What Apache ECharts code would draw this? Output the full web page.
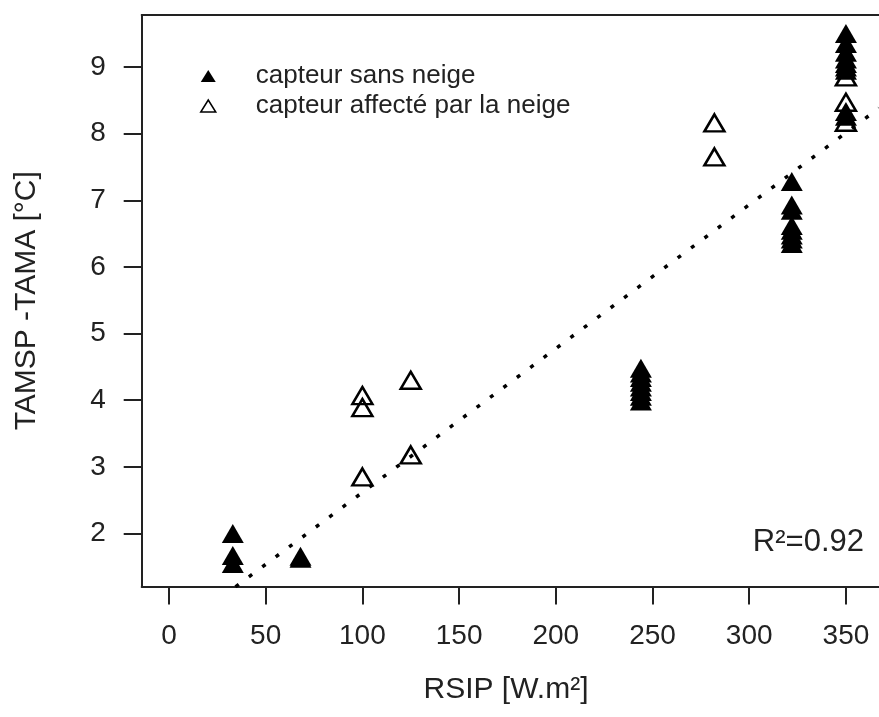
<!DOCTYPE html>
<html>
<head>
<meta charset="utf-8">
<script src="https://cdn.jsdelivr.net/npm/echarts@6/dist/echarts.min.js"></script>
<style>
html,body{margin:0;padding:0;background:#fff;}
#chart{width:879px;height:717px;}
</style>
</head>
<body>
<div id="chart"></div>
<script>
// ---- data ----
var seriesNames = ['capteur sans neige', 'capteur affecté par la neige'];
// capteur sans neige (filled triangles)
var sansNeigeX = [33, 33, 33, 68, 68,
  244, 244, 244, 244, 244, 244, 244, 244,
  322, 322, 322, 322, 322, 322, 322, 322,
  350, 350, 350, 350, 350, 350, 350, 350, 350];
var sansNeigeY = [2.0, 1.67, 1.55, 1.63, 1.66,
  3.99, 4.06, 4.13, 4.2, 4.27, 4.34, 4.41, 4.48,
  7.28, 6.93, 6.85, 6.62, 6.55, 6.48, 6.42, 6.35,
  9.5, 9.35, 9.22, 9.12, 9.05, 9.0, 8.95, 8.33, 8.26];
// capteur affecté par la neige (open triangles)
var neigeX = [100, 100, 100, 125, 125, 282, 282, 350, 350, 350];
var neigeY = [4.07, 3.89, 2.85, 4.30, 3.18, 8.16, 7.65, 8.85, 8.47, 8.17];
// regression line  y = intercept + slope * x
var regIntercept = 0.459;
var regSlope = 0.02158;
var r2Label = 'R²=0.92';
// axes
var xTicks = [0, 50, 100, 150, 200, 250, 300, 350];
var yTicks = [2, 3, 4, 5, 6, 7, 8, 9];
var xTitle = 'RSIP [W.m²]';
var yTitle = 'TAMSP -TAMA [°C]';
var xMin = -14.1, xMax = 367.1;
var yMin = 1.206, yMax = 9.779;

function zip(xs, ys) { return xs.map(function (x, i) { return [x, ys[i]]; }); }
var regLine = [xMin, xMax].map(function (x) { return [x, regIntercept + regSlope * x]; });

var FONT = '"Liberation Sans", Arial, sans-serif';
var TXT = '#222';
var AX = {color: '#222', width: 2};

var chart = echarts.init(document.getElementById('chart'), null, {renderer: 'canvas'});
chart.setOption({
  animation: false,
  backgroundColor: '#fff',
  textStyle: {fontFamily: FONT},
  grid: {left: 141.7, top: 15, right: 0, bottom: 130.5, show: false},
  legend: {
    orient: 'vertical', left: 195, top: 58,
    itemWidth: 15, itemHeight: 12, itemGap: 4,
    selectedMode: false,
    textStyle: {fontSize: 26, lineHeight: 26, color: TXT, fontFamily: FONT, padding: [0, 0, 0, 35]},
    data: [
      {name: seriesNames[0], icon: 'triangle', itemStyle: {color: '#000', borderWidth: 0}},
      {name: seriesNames[1], icon: 'triangle', itemStyle: {color: 'rgba(0,0,0,0)', borderColor: '#000', borderWidth: 1.5}}
    ]
  },
  xAxis: [{
    type: 'value', min: xMin, max: xMax, position: 'bottom',
    splitLine: {show: false},
    axisLine: {show: true, onZero: false, lineStyle: AX},
    axisTick: {show: true, inside: false, length: 18, customValues: xTicks, lineStyle: AX},
    axisLabel: {show: true, margin: 36, customValues: xTicks, fontSize: 28, lineHeight: 28, color: TXT, fontFamily: FONT}
  }, {
    type: 'value', min: xMin, max: xMax, position: 'top',
    splitLine: {show: false},
    axisLine: {show: true, onZero: false, lineStyle: AX},
    axisTick: {show: false}, axisLabel: {show: false}
  }],
  yAxis: {
    type: 'value', min: yMin, max: yMax,
    name: yTitle, nameLocation: 'middle', nameGap: 100, nameRotate: 90,
    nameTextStyle: {fontSize: 30, color: TXT, fontFamily: FONT},
    splitLine: {show: false},
    axisLine: {show: true, onZero: false, lineStyle: AX},
    axisTick: {show: true, inside: false, length: 18, customValues: yTicks, lineStyle: AX},
    axisLabel: {show: true, margin: 36, customValues: yTicks, fontSize: 28, color: TXT, fontFamily: FONT}
  },
  graphic: [
    {type: 'text', x: 506, y: 690, style: {text: xTitle, fontSize: 30, fontFamily: FONT, fill: TXT, align: 'center', verticalAlign: 'middle'}},
    {type: 'text', x: 864, y: 542, style: {text: r2Label, fontSize: 31, fontFamily: FONT, fill: TXT, align: 'right', verticalAlign: 'middle'}}
  ],
  series: [
    {
      name: 'regression', type: 'line', data: regLine, clip: true, showSymbol: false, symbol: 'none',
      silent: true, z: 1,
      lineStyle: {color: '#000', width: 3.5, type: [4, 12.7], cap: 'butt'}
    },
    {
      name: seriesNames[0], type: 'scatter', data: zip(sansNeigeX, sansNeigeY),
      symbol: 'triangle', symbolSize: [22, 19], silent: true, z: 3,
      itemStyle: {color: '#000', opacity: 1}
    },
    {
      name: seriesNames[1], type: 'scatter', data: zip(neigeX, neigeY),
      symbol: 'triangle', symbolSize: [20, 17], silent: true, z: 4,
      itemStyle: {color: 'rgba(0,0,0,0)', borderColor: '#000', borderWidth: 2.5, opacity: 1}
    }
  ]
});
</script>
</body>
</html>
